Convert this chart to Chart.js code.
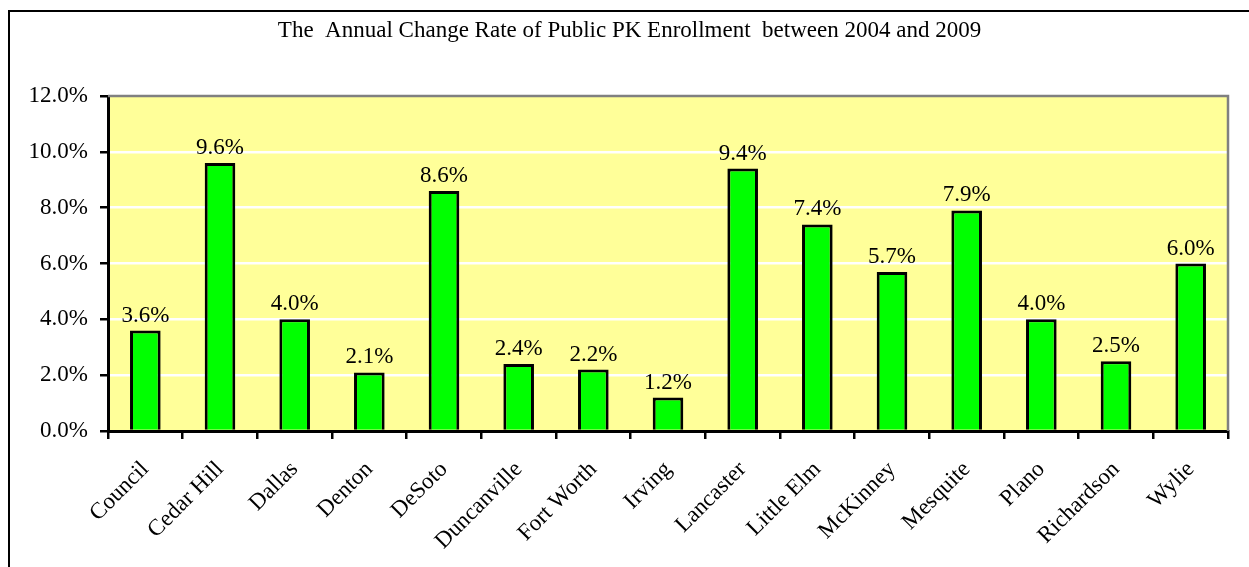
<!DOCTYPE html>
<html>
<head>
<meta charset="utf-8">
<title>PK Enrollment Change Rate</title>
<script src="https://cdn.jsdelivr.net/npm/chart.js@4.4.1/dist/chart.umd.min.js"></script>
<style>
    html, body {
        margin: 0;
        padding: 0;
        background: #ffffff;
        overflow: hidden;
    }
    .frame {
        position: absolute;
        left: 8px;
        top: 10px;
        width: 1260px;
        height: 580px;
        border-left: 2px solid #000;
        border-top: 2px solid #000;
    }
    .chart-box {
        position: absolute;
        left: 10px;
        top: 12px;
        width: 1239px;
        height: 555px;
    }
</style>
</head>
<body>
<div class="frame"></div>
<div class="chart-box">
    <canvas id="enrollChart"></canvas>
</div>
<script>
// Chart data
const districts = ['Council', 'Cedar Hill', 'Dallas', 'Denton', 'DeSoto', 'Duncanville', 'Fort Worth',
    'Irving', 'Lancaster', 'Little Elm', 'McKinney', 'Mesquite', 'Plano', 'Richardson', 'Wylie'];
const changeRates = [3.6, 9.6, 4.0, 2.1, 8.6, 2.4, 2.2, 1.2, 9.4, 7.4, 5.7, 7.9, 4.0, 2.5, 6.0];
const yTicks = [0, 2, 4, 6, 8, 10, 12];

const chartTitle = 'The  Annual Change Rate of Public PK Enrollment  between 2004 and 2009';
const serif = "'Liberation Serif', 'Times New Roman', serif";

Chart.defaults.color = '#000';
Chart.defaults.font.family = serif;

// Title centred on the whole canvas (not just the padded layout box)
const centredTitle = {
    id: 'centredTitle',
    afterDraw: function(chart) {
        const ctx = chart.ctx;
        ctx.save();
        ctx.font = '23px ' + serif;
        ctx.fillStyle = '#000';
        ctx.textAlign = 'center';
        ctx.textBaseline = 'middle';
        ctx.fillText(chartTitle, chart.width / 2, 19);
        ctx.restore();
    }
};

// Yellow plot area plus grey top/right edges
const plotFrame = {
    id: 'plotFrame',
    beforeDraw: function(chart) {
        const a = chart.chartArea;
        const ctx = chart.ctx;
        ctx.save();
        ctx.fillStyle = '#FFFF99';
        ctx.fillRect(a.left, a.top, a.right - a.left, a.bottom - a.top);
        ctx.restore();
    },
    afterDraw: function(chart) {
        const a = chart.chartArea;
        const ctx = chart.ctx;
        ctx.save();
        ctx.strokeStyle = '#808080';
        ctx.lineWidth = 2.5;
        ctx.beginPath();
        ctx.moveTo(a.left, a.top);
        ctx.lineTo(a.right, a.top);
        ctx.lineTo(a.right, a.bottom);
        ctx.stroke();
        ctx.restore();
    }
};

// Value labels above each bar
const barLabels = {
    id: 'barLabels',
    afterDatasetsDraw: function(chart) {
        const ctx = chart.ctx;
        const meta = chart.getDatasetMeta(0);
        ctx.save();
        ctx.font = '23px ' + serif;
        ctx.fillStyle = '#000';
        ctx.textAlign = 'center';
        ctx.textBaseline = 'alphabetic';
        meta.data.forEach(function(bar, i) {
            ctx.fillText(changeRates[i].toFixed(1) + '%', bar.x, bar.y - 9);
        });
        ctx.restore();
    }
};

const ctx = document.getElementById('enrollChart').getContext('2d');
new Chart(ctx, {
    type: 'bar',
    data: {
        labels: districts,
        datasets: [{
            data: changeRates,
            backgroundColor: '#00FF00',
            borderColor: '#000',
            borderWidth: 3,
            categoryPercentage: 1,
            barPercentage: 0.41
        }]
    },
    options: {
        responsive: true,
        maintainAspectRatio: false,
        animation: false,
        layout: {
            padding: { left: 0, right: 21, top: 84, bottom: 0 }
        },
        plugins: {
            legend: { display: false },
            tooltip: { enabled: false },
            title: { display: false }
        },
        scales: {
            x: {
                afterFit: function(scale) { scale.height = 136; },
                grid: {
                    offset: true,
                    drawOnChartArea: false,
                    color: '#000',
                    lineWidth: 2.5,
                    tickLength: 8
                },
                border: { color: '#000', width: 3 },
                ticks: {
                    autoSkip: false,
                    minRotation: 45,
                    maxRotation: 45,
                    padding: 17,
                    font: { family: serif, size: 23 }
                }
            },
            y: {
                min: 0,
                max: 12,
                afterFit: function(scale) { scale.width = 98; },
                afterBuildTicks: function(scale) {
                    scale.ticks = yTicks.map(v => ({ value: v }));
                },
                grid: {
                    color: function(c) {
                        return (c.tick && (c.tick.value === 0 || c.tick.value === 12)) ? 'rgba(0,0,0,0)' : '#fff';
                    },
                    lineWidth: 2.5,
                    tickColor: '#000',
                    tickLength: 8
                },
                border: { color: '#000', width: 3 },
                ticks: {
                    padding: 12,
                    font: { family: serif, size: 23 },
                    callback: function(v) { return v.toFixed(1) + '%'; }
                }
            }
        }
    },
    plugins: [plotFrame, barLabels, centredTitle]
});
</script>
</body>
</html>
